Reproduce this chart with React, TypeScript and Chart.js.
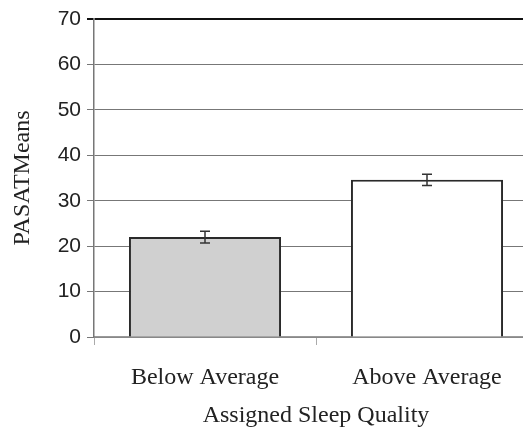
import React, { useEffect, useRef } from "react";
import { Chart, registerables } from "chart.js";

Chart.register(...registerables);

const categories = ["Below Average", "Above Average"];
const means = [22.0, 34.6];
const errors = [1.3, 1.25];
const barColors = ["#d0d0d0", "#ffffff"];
const yTicks = [0, 10, 20, 30, 40, 50, 60, 70];

const errorBarPlugin = {
  id: "errorBars",
  afterDatasetsDraw(chart: any) {
    const ctx = chart.ctx;
    const meta = chart.getDatasetMeta(0);
    const y = chart.scales.y;
    ctx.save();
    ctx.strokeStyle = "#333333";
    ctx.lineWidth = 1.5;
    meta.data.forEach((bar: any, i: number) => {
      const x = bar.x;
      const top = y.getPixelForValue(means[i] + errors[i]);
      const bot = y.getPixelForValue(means[i] - errors[i]);
      ctx.beginPath();
      ctx.moveTo(x, top);
      ctx.lineTo(x, bot);
      ctx.moveTo(x - 5, top);
      ctx.lineTo(x + 5, top);
      ctx.moveTo(x - 5, bot);
      ctx.lineTo(x + 5, bot);
      ctx.stroke();
    });
    ctx.restore();
  },
};

export default function App() {
  const ref = useRef<HTMLCanvasElement>(null);
  useEffect(() => {
    document.body.style.margin = "0";
    const chart = new Chart(ref.current!, {
      type: "bar",
      data: {
        labels: categories,
        datasets: [
          {
            data: means,
            backgroundColor: barColors,
            borderColor: "#2a2a2a",
            borderWidth: 2,
            barPercentage: 0.685,
            categoryPercentage: 1,
          },
        ],
      },
      options: {
        animation: false,
        responsive: false,
        layout: { padding: { top: 19, right: 7, left: 0, bottom: 0 } },
        plugins: { legend: { display: false }, tooltip: { enabled: false } },
        scales: {
          x: {
            afterFit: (s: any) => {
              s.height = 93;
            },
            grid: {
              display: true,
              drawOnChartArea: false,
              offset: true,
              tickLength: 8,
              color: "#aaaaaa",
            },
            border: { display: true, color: "#999999", width: 1.5 },
            ticks: {
              color: "#222222",
              font: { family: "Liberation Serif", size: 24 },
              padding: 18,
            },
            title: {
              display: true,
              text: "Assigned Sleep Quality",
              color: "#222222",
              font: { family: "Liberation Serif", size: 24 },
              padding: { top: 0, bottom: 0 },
            },
          },
          y: {
            min: 0,
            max: 70,
            afterFit: (s: any) => {
              s.width = 94;
            },
            afterBuildTicks: (s: any) => {
              s.ticks = yTicks.map((v) => ({ value: v }));
            },
            grid: {
              color: (c: any) => (c.tick && c.tick.value === 70 ? "#111111" : "#777777"),
              lineWidth: (c: any) => (c.tick && c.tick.value === 70 ? 2 : 1),
              tickLength: 7,
            },
            border: { display: true, color: "#777777", width: 1.5 },
            ticks: {
              color: "#222222",
              font: { family: "Liberation Sans", size: 21 },
              padding: 6,
            },
            title: {
              display: true,
              text: "PASATMeans",
              color: "#222222",
              font: { family: "Liberation Serif", size: 24 },
              padding: { top: 8, bottom: 0 },
            },
          },
        },
      },
      plugins: [errorBarPlugin],
    });
    return () => chart.destroy();
  }, []);
  return (
    <div style={{ width: 523, height: 427, overflow: "hidden", background: "#fff" }}>
      <canvas ref={ref} width={545} height={430} style={{ display: "block" }} />
    </div>
  );
}
